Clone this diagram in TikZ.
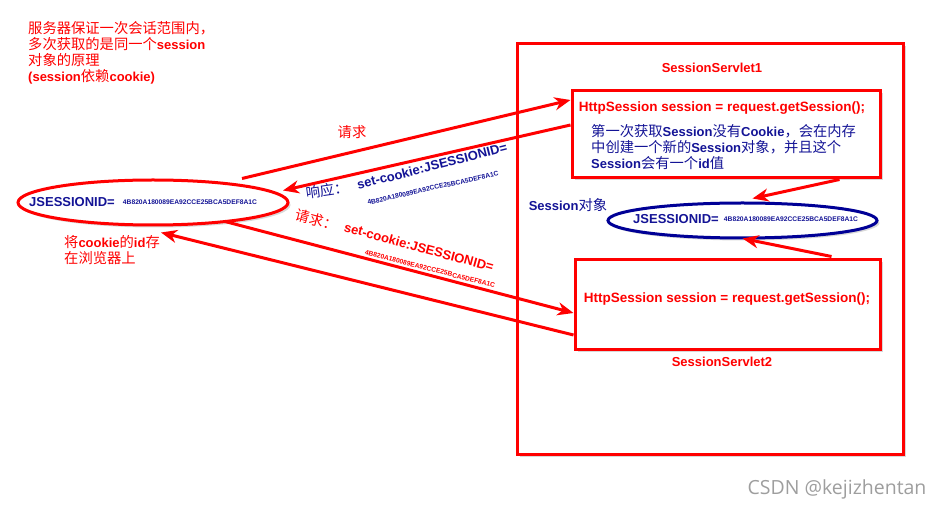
\documentclass[tikz,border=0pt]{standalone}
\usepackage{fontspec}
\setmainfont{Liberation Sans}
\newfontfamily\cjk[Scale=1.1]{Noto Sans CJK SC}
\newfontfamily\wmk{Open Sans}
\usetikzlibrary{arrows.meta,shadows,shapes.geometric,calc}
\definecolor{rd}{RGB}{255,0,0}
\definecolor{bl}{RGB}{20,20,150}
\definecolor{bdark}{RGB}{0,0,150}
\newcommand\zh[1]{{\cjk\mdseries #1}}
\begin{document}
\begin{tikzpicture}[x=1pt,y=-1pt,
  shade/.style={drop shadow={shadow xshift=2.5pt,shadow yshift=-2.5pt,opacity=0.3}},
  box/.style={draw=rd,line width=3pt,fill=white,shade,inner sep=0pt},
  arr/.style={draw=rd,line width=3pt,-{Stealth[length=16pt,width=13pt,inset=5pt]}},
  rt/.style={text=rd,font=\bfseries\fontsize{13}{16}\selectfont,inner sep=0pt},
  bt/.style={text=bl,font=\bfseries\fontsize{13}{16}\selectfont,inner sep=0pt},
  idt/.style={font=\bfseries\fontsize{6.7}{8}\selectfont,inner sep=0pt},
]
\useasboundingbox (0,0) rectangle (940,510);
% containers
\node[box,minimum width=386pt,minimum height=411pt] (big) at (710,249.5) {};
\node[box,minimum width=308pt,minimum height=87pt] (top) at (726,134.5) {};
\node[box,minimum width=305pt,minimum height=90pt] (bot) at (727.5,305) {};
\node[ellipse,draw=rd,line width=3pt,fill=white,shade,minimum width=270pt,minimum height=45pt] (lell) at (153,202.5) {};
\node[ellipse,draw=bdark,line width=3pt,fill=white,shade,minimum width=269pt,minimum height=35pt] (bell) at (742.5,220.5) {};
% texts
\node[rt,anchor=north west,align=left] (note) at (28,21)
  {\zh{服务器保证一次会话范围内，}\\ \zh{多次获取的是同一个}session\\ \zh{对象的原理}\\ (session\zh{依赖}cookie)};
\node[rt] (s1) at (712,68) {SessionServlet1};
\node[rt,font=\bfseries\fontsize{13.5}{16}\selectfont] (code1) at (722,108) {HttpSession session = request.getSession();};
\node[bt,anchor=north west,align=left] (para) at (591,124)
  {\zh{第一次获取}Session\zh{没有}Cookie\zh{，会在内存}\\ \zh{中创建一个新的}Session\zh{对象，并且这个}\\ Session\zh{会有一个}id\zh{值}};
\node[bt] (sobj) at (568,205) {Session\zh{对象}};
\node[bt] (bj) at (676,219.5) {JSESSIONID=};
\node[idt,text=bl] (bid) at (791,219.5) {4B820A180089EA92CCE25BCA5DEF8A1C};
\node[bt] (lj) at (72,202.5) {JSESSIONID=};
\node[idt,text=bl] (lid) at (190,202.5) {4B820A180089EA92CCE25BCA5DEF8A1C};
\node[rt,anchor=north west,align=left] (store) at (64,235) {\zh{将}cookie\zh{的}id\zh{存}\\ \zh{在浏览器上}};
\node[rt] (req1) at (352,132) {\zh{请求}};
\node[bt,rotate=8] (resp) at (327,190) {\zh{响应：}};
\node[bt,rotate=14.3] (sc1) at (432,166) {set-cookie:JSESSIONID=};
\node[idt,text=bl,rotate=12.6] (id1) at (433,188) {4B820A180089EA92CCE25BCA5DEF8A1C};
\node[rt,rotate=-15] (req2) at (317,220) {\zh{请求：}};
\node[rt,rotate=-15.3] (sc2) at (419,247) {set-cookie:JSESSIONID=};
\node[idt,text=rd,rotate=-14.5] (id2) at (430,269) {4B820A180089EA92CCE25BCA5DEF8A1C};
\node[rt,font=\bfseries\fontsize{13.5}{16}\selectfont] (code2) at (727,299) {HttpSession session = request.getSession();};
\node[rt] (s2) at (722,362) {SessionServlet2};
\node[text=black!38,font=\wmk\fontsize{19.5}{22}\selectfont,inner sep=0pt] (wm) at (837,489) {CSDN @kejizhentan};
% connectors
\draw[arr] ($(lell.center)+(89,-24)$) -- ($(top.west)+(0,-34.5)$);
\draw[arr] ($(top.west)+(0,-9.5)$) -- ($(lell.center)+(130,-12)$);
\draw[arr] ($(lell.center)+(72,19)$) -- ($(bot.west)+(0,8)$);
\draw[arr] ($(bot.west)+(0,30)$) -- ($(lell.center)+(8,30)$);
\draw[arr] ($(top.south east)+(-42,0)$) -- ($(bell.center)+(10,-22)$);
\draw[arr] ($(bot.north east)+(-50,-2)$) -- ($(bell.center)+(0,18)$);
\end{tikzpicture}
\end{document}
